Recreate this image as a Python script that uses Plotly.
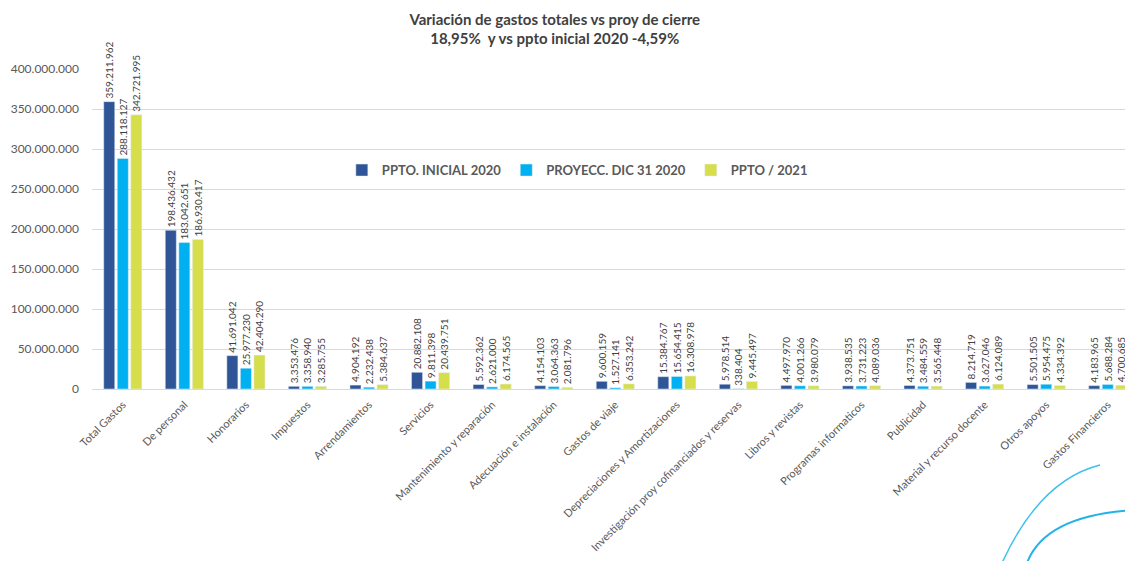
import plotly.graph_objects as go

categories = ["Total Gastos", "De personal", "Honorarios", "Impuestos", "Arrendamientos",
              "Servicios", "Mantenimiento y reparación", "Adecuación e instalación",
              "Gastos de viaje", "Depreciaciones y Amortizaciones",
              "Investigación proy cofinanciados y reservas", "Libros y revistas",
              "Programas informaticos", "Publicidad", "Material y recurso docente",
              "Otros apoyos", "Gastos Financieros"]

ppto_inicial_2020 = [359211962, 198436432, 41691042, 3353476, 4904192, 20882108, 5592362,
                     4154103, 9600159, 15384767, 5978514, 4497970, 3938535, 4373751,
                     8214719, 5501505, 4183965]
proyecc_dic_2020 = [288118127, 183042651, 25977230, 3358940, 2232438, 9811398, 2621000,
                    3064363, 1527141, 15654415, 338404, 4001266, 3731223, 3484559,
                    3627046, 5954475, 5688284]
ppto_2021 = [342721995, 186930417, 42404290, 3285755, 5384637, 20439751, 6174565,
             2081796, 6353242, 16308978, 9445497, 3980079, 4089036, 3565448,
             6124089, 4334392, 4700685]

series_names = ["PPTO. INICIAL 2020", "PROYECC. DIC 31 2020", "PPTO / 2021"]
series_values = [ppto_inicial_2020, proyecc_dic_2020, ppto_2021]
series_colors = ["#2F5597", "#00B0F0", "#D6DE4C"]

y_ticks = [0, 50000000, 100000000, 150000000, 200000000, 250000000, 300000000,
           350000000, 400000000]

FONT = "Lato"
W, H = 1125, 553          # page body has an 8px margin
L, R, T, B = 84, 0, 61, 172

fig = go.Figure()
for name, vals, col in zip(series_names, series_values, series_colors):
    fig.add_trace(go.Bar(
        x=categories, y=vals, name=name, marker_color=col,
        texttemplate="%{y:,.0f}", textposition="outside", textangle=-90,
        textfont=dict(family=FONT, size=10, color="#404040"),
        cliponaxis=False, constraintext="none",
    ))

fig.update_layout(
    width=W, height=H,
    separators=",.",
    paper_bgcolor="white", plot_bgcolor="white",
    barmode="group", bargap=0.34, bargroupgap=0.185,
    margin=dict(l=L, r=R, t=T, b=B, autoexpand=False),
    font=dict(family=FONT, color="#595959"),
    title=dict(
        text="<b>Variación de gastos totales vs proy de cierre<br>18,95%  y vs ppto inicial 2020 -4,59%</b>",
        x=0.486, xanchor="center", y=0.970, yanchor="top",
        font=dict(family=FONT, size=15, color="#404040"),
    ),
    legend=dict(orientation="h", x=0.24, xanchor="left", y=0.684, yanchor="middle",
                font=dict(family=FONT, size=13, color="#595959", weight="bold"),
                bgcolor="rgba(0,0,0,0)", itemwidth=30),
    yaxis=dict(range=[0, 400000000], tickvals=y_ticks, tickformat=",.0f",
               showgrid=True, gridcolor="#D9D9D9", gridwidth=1,
               zeroline=False, showline=False, ticks="",
               ticklabelstandoff=12, automargin=False,
               tickfont=dict(family=FONT, size=12, color="#595959")),
    xaxis=dict(showline=True, linecolor="#D9D9D9", linewidth=1, ticks="",
               tickangle=-45, automargin=False, ticklabelstandoff=4,
               tickfont=dict(family=FONT, size=11, color="#595959"),
               range=[-0.5, 16.41]),
    showlegend=True,
)

# decorative arcs (bottom right), given in page pixels
def px2paper(px, py):
    fx, fy = px - 8, py - 8
    return (fx - L) / (W - L - R), (H - B - fy) / (H - T - B)

def arc(p0, c, p1):
    a = px2paper(*p0); b = px2paper(*c); d = px2paper(*p1)
    return f"M {a[0]},{a[1]} Q {b[0]},{b[1]} {d[0]},{d[1]}"

fig.add_shape(type="path", xref="paper", yref="paper",
              path=arc((1100, 465), (1040, 480), (1002, 563)),
              line=dict(color="#3CC0EE", width=1.5))
fig.add_shape(type="path", xref="paper", yref="paper",
              path=arc((1135, 510), (1045, 515), (1027, 563)),
              line=dict(color="#22B2EA", width=2))

fig.write_html("out.html")
